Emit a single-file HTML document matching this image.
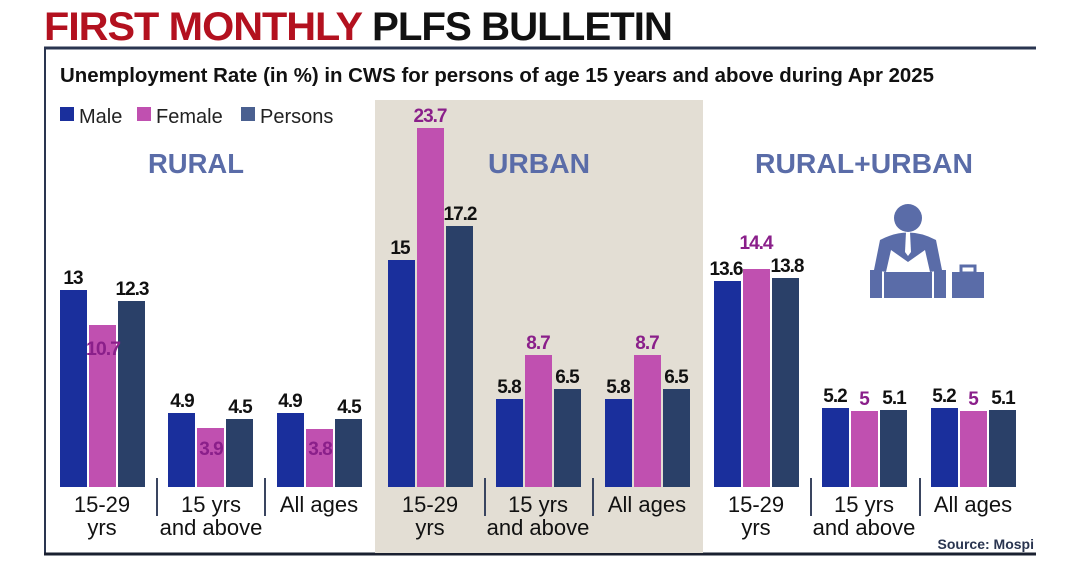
<!DOCTYPE html>
<html><head><meta charset="utf-8"><style>
html,body{margin:0;padding:0;background:#fff;}
svg{display:block;}
text{font-family:"Liberation Sans",sans-serif;font-weight:bold;}
text.n{font-weight:normal;}
</style></head><body>
<svg width="1080" height="566" viewBox="0 0 1080 566" xmlns="http://www.w3.org/2000/svg">
<rect width="1080" height="566" fill="#fff"/>
<text x="44" y="40" font-size="40" fill="#b3111f" letter-spacing="-1" textLength="318" lengthAdjust="spacingAndGlyphs">FIRST MONTHLY</text>
<text x="372" y="40" font-size="40" fill="#111" letter-spacing="-1" textLength="300" lengthAdjust="spacingAndGlyphs">PLFS BULLETIN</text>
<line x1="44" y1="48" x2="1036" y2="48" stroke="#2a3550" stroke-width="3"/>
<line x1="45" y1="48" x2="45" y2="554" stroke="#2a3550" stroke-width="2"/>
<line x1="44" y1="554" x2="1036" y2="554" stroke="#1a2030" stroke-width="3"/>
<text x="60" y="82" font-size="20" fill="#111" textLength="874" lengthAdjust="spacingAndGlyphs">Unemployment Rate (in %) in CWS for persons of age 15 years and above during Apr 2025</text>
<rect x="375" y="100" width="328" height="453" fill="#e3ded4"/>
<rect x="60" y="107" width="14" height="14" fill="#1a2f9c"/>
<text class="n" x="79" y="123" font-size="20" fill="#222">Male</text>
<rect x="137" y="107" width="14" height="14" fill="#c050b0"/>
<text class="n" x="156" y="123" font-size="20" fill="#222">Female</text>
<rect x="241" y="107" width="14" height="14" fill="#4a6090"/>
<text class="n" x="260" y="123" font-size="20" fill="#222">Persons</text>
<g font-size="28" fill="#5a6ca8">
<text x="148" y="173" textLength="96" lengthAdjust="spacingAndGlyphs">RURAL</text>
<text x="488" y="173" textLength="102" lengthAdjust="spacingAndGlyphs">URBAN</text>
<text x="755" y="173" textLength="218" lengthAdjust="spacingAndGlyphs">RURAL+URBAN</text>
</g>
<g fill="#5a6ca8">
<circle cx="908" cy="218" r="14"/>
<path d="M880 240 Q908 225 936 240 L942 270 L930 272 L925 250 L908 262 L891 250 L886 272 L874 270 Z"/>
<rect x="870" y="270" width="12" height="28"/>
<rect x="934" y="270" width="12" height="28"/>
<rect x="884" y="272" width="48" height="26"/>
<rect x="952" y="272" width="32" height="26"/>
<rect x="961" y="266" width="14" height="7" fill="none" stroke="#5a6ca8" stroke-width="3"/>
</g>
<path d="M906 232 L910 232 L911 252 L908 256 L905 252 Z" fill="#fff"/>
<g>
<rect x="60" y="290" width="27" height="197" fill="#1a2f9c"/>
<rect x="89" y="325" width="27" height="162" fill="#c050b0"/>
<rect x="118" y="301" width="27" height="186" fill="#2a4068"/>
<rect x="168" y="413" width="27" height="74" fill="#1a2f9c"/>
<rect x="197" y="428" width="27" height="59" fill="#c050b0"/>
<rect x="226" y="419" width="27" height="68" fill="#2a4068"/>
<rect x="277" y="413" width="27" height="74" fill="#1a2f9c"/>
<rect x="306" y="429" width="27" height="58" fill="#c050b0"/>
<rect x="335" y="419" width="27" height="68" fill="#2a4068"/>
<rect x="388" y="260" width="27" height="227" fill="#1a2f9c"/>
<rect x="417" y="128" width="27" height="359" fill="#c050b0"/>
<rect x="446" y="226" width="27" height="261" fill="#2a4068"/>
<rect x="496" y="399" width="27" height="88" fill="#1a2f9c"/>
<rect x="525" y="355" width="27" height="132" fill="#c050b0"/>
<rect x="554" y="389" width="27" height="98" fill="#2a4068"/>
<rect x="605" y="399" width="27" height="88" fill="#1a2f9c"/>
<rect x="634" y="355" width="27" height="132" fill="#c050b0"/>
<rect x="663" y="389" width="27" height="98" fill="#2a4068"/>
<rect x="714" y="281" width="27" height="206" fill="#1a2f9c"/>
<rect x="743" y="269" width="27" height="218" fill="#c050b0"/>
<rect x="772" y="278" width="27" height="209" fill="#2a4068"/>
<rect x="822" y="408" width="27" height="79" fill="#1a2f9c"/>
<rect x="851" y="411" width="27" height="76" fill="#c050b0"/>
<rect x="880" y="410" width="27" height="77" fill="#2a4068"/>
<rect x="931" y="408" width="27" height="79" fill="#1a2f9c"/>
<rect x="960" y="411" width="27" height="76" fill="#c050b0"/>
<rect x="989" y="410" width="27" height="77" fill="#2a4068"/>
</g>
<g font-size="19" fill="#111" text-anchor="middle" letter-spacing="-1">
<text x="73" y="284">13</text>
<text x="132" y="295">12.3</text>
<text x="182" y="407">4.9</text>
<text x="240" y="413">4.5</text>
<text x="290" y="407">4.9</text>
<text x="349" y="413">4.5</text>
<text x="400" y="254">15</text>
<text x="460" y="220">17.2</text>
<text x="509" y="393">5.8</text>
<text x="567" y="383">6.5</text>
<text x="618" y="393">5.8</text>
<text x="676" y="383">6.5</text>
<text x="726" y="275">13.6</text>
<text x="787" y="272">13.8</text>
<text x="835" y="402">5.2</text>
<text x="894" y="404">5.1</text>
<text x="944" y="402">5.2</text>
<text x="1003" y="404">5.1</text>
</g>
<g font-size="19" fill="#8a1f8a" text-anchor="middle" letter-spacing="-1">
<text x="103" y="355" textLength="34" lengthAdjust="spacingAndGlyphs">10.7</text>
<text x="211" y="455">3.9</text>
<text x="320" y="455">3.8</text>
<text x="430" y="122">23.7</text>
<text x="538" y="349">8.7</text>
<text x="647" y="349">8.7</text>
<text x="756" y="249">14.4</text>
<text x="864" y="405">5</text>
<text x="973" y="405">5</text>
</g>
<g stroke="#3a4560" stroke-width="2">
<line x1="157" y1="478" x2="157" y2="516"/>
<line x1="265" y1="478" x2="265" y2="516"/>
<line x1="485" y1="478" x2="485" y2="516"/>
<line x1="593" y1="478" x2="593" y2="516"/>
<line x1="811" y1="478" x2="811" y2="516"/>
<line x1="920" y1="478" x2="920" y2="516"/>
</g>
<g font-size="22" fill="#111" text-anchor="middle">
<text class="n" x="102" y="512">15-29</text><text class="n" x="102" y="535">yrs</text>
<text class="n" x="211" y="512">15 yrs</text><text class="n" x="211" y="535">and above</text>
<text class="n" x="319" y="512">All ages</text>
<text class="n" x="430" y="512">15-29</text><text class="n" x="430" y="535">yrs</text>
<text class="n" x="538" y="512">15 yrs</text><text class="n" x="538" y="535">and above</text>
<text class="n" x="647" y="512">All ages</text>
<text class="n" x="756" y="512">15-29</text><text class="n" x="756" y="535">yrs</text>
<text class="n" x="864" y="512">15 yrs</text><text class="n" x="864" y="535">and above</text>
<text class="n" x="973" y="512">All ages</text>
</g>
<text x="1034" y="549" font-size="14" fill="#2a3550" text-anchor="end">Source: Mospi</text>
</svg>
</body></html>
